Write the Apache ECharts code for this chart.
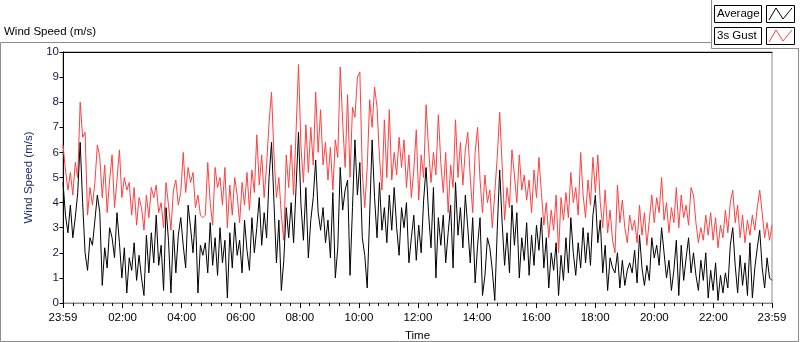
<!DOCTYPE html>
<html>
<head>
<meta charset="utf-8">
<script src="https://cdn.jsdelivr.net/npm/echarts@6/dist/echarts.min.js"></script>
<style>
  html, body { margin: 0; padding: 0; background: #fff; }
  #main { width: 800px; height: 342px; }
</style>
</head>
<body>
<div id="main"></div>
<script>
// wind speed, one reading roughly every 5 minutes from 23:59 to 23:59
var gust = [
  6.3,5.3,4.5,5.2,4.3,5.6,5.0,8.0,6.6,6.8,3.5,4.6,3.9,4.8,6.3,5.8,4.2,5.5,3.6,4.9,5.9,3.8,4.9,6.1,4.2,5.0,4.5,4.8,3.5,4.6,
  3.1,4.2,3.8,2.9,4.3,3.4,4.6,4.2,4.7,3.6,4.0,3.0,4.8,3.9,2.9,4.5,4.9,3.9,4.4,6.0,4.4,5.4,4.8,5.2,3.8,4.3,3.5,3.4,
  3.5,5.6,4.0,3.1,5.4,4.6,5.0,3.9,5.4,3.0,4.7,3.5,5.0,4.3,3.2,4.8,3.9,5.2,3.7,5.3,4.4,6.7,4.7,5.9,4.2,5.5,7.2,8.4,5.9,4.2,
  5.0,3.5,2.5,5.9,4.6,6.3,4.3,6.8,9.5,6.2,4.8,7.1,5.2,7.0,5.5,8.4,6.0,7.7,5.5,6.4,4.9,6.2,4.5,6.5,5.8,9.4,7.2,5.4,
  8.3,5.0,7.8,7.4,9.0,9.2,5.2,3.8,5.4,8.1,7.0,8.6,7.8,5.8,4.5,7.3,5.0,7.7,4.9,6.0,5.1,6.6,5.4,6.5,4.6,5.9,4.2,5.3,6.9,4.1,
  5.9,5.0,7.9,6.2,4.8,6.0,5.1,7.5,5.6,4.4,6.0,3.6,5.5,4.6,7.3,5.0,6.4,4.7,6.1,6.8,5.0,3.6,6.0,7.0,4.9,3.6,5.1,4.0,
  4.5,3.0,4.4,5.8,7.6,5.5,3.3,4.6,3.8,6.1,5.1,4.0,5.9,4.5,5.1,4.1,4.9,3.6,5.3,4.2,5.8,4.4,3.1,4.0,2.6,3.7,2.9,4.3,2.0,4.2,
  3.3,4.4,3.4,5.2,4.0,4.6,3.5,6.0,4.3,3.4,4.9,3.9,5.8,4.4,5.9,4.0,3.0,4.5,2.8,3.7,2.5,2.0,4.7,3.2,4.1,3.0,2.4,3.5,
  2.9,3.3,2.4,3.9,2.7,3.6,2.3,3.3,4.3,3.2,4.2,3.6,5.0,3.3,4.0,2.8,3.8,3.2,4.6,3.0,4.3,3.4,3.9,3.1,4.6,4.3,3.2,2.4,3.0,2.5,
  3.5,2.7,3.6,2.5,3.4,2.2,3.1,2.6,3.7,2.8,4.0,4.5,3.2,3.9,2.6,3.5,2.4,3.3,2.7,3.5,2.9,3.8,4.5,3.6,2.6,3.2,2.5,3.1
];
var average = [
  4.8,3.5,2.8,3.9,2.6,3.4,4.4,6.4,4.0,2.0,1.3,2.6,2.3,3.3,4.3,3.6,0.7,2.2,1.4,3.0,2.6,1.8,3.6,2.4,1.0,2.2,0.4,1.8,1.3,2.4,
  0.9,1.9,1.0,0.3,2.7,1.2,2.8,1.6,3.5,1.5,2.3,0.5,3.8,2.5,0.4,2.9,1.2,2.7,3.4,2.3,1.4,3.9,3.0,2.0,3.5,0.4,2.3,1.9,
  2.4,1.2,3.2,1.5,2.6,1.1,3.0,1.6,2.5,0.2,2.8,1.4,3.2,1.9,2.5,1.2,3.3,2.1,1.3,3.4,2.0,3.0,4.2,2.3,3.6,2.6,5.0,6.4,4.0,1.6,
  3.3,0.5,1.7,3.8,2.6,4.0,2.4,4.6,6.8,3.9,2.5,4.6,1.8,3.3,4.2,5.7,3.6,2.9,3.8,2.4,3.3,1.8,4.4,1.0,2.2,5.4,3.7,4.5,
  4.9,1.1,3.8,6.5,4.3,5.6,2.6,1.9,0.6,3.5,6.5,4.2,2.6,4.8,2.9,3.8,2.4,4.3,2.9,4.6,3.0,1.9,3.8,3.0,4.0,1.6,2.6,3.5,1.7,3.1,
  2.0,4.1,5.4,3.6,2.2,4.6,1.0,3.4,2.3,3.5,1.6,2.8,3.9,1.4,4.8,2.7,3.8,2.2,4.3,3.0,1.6,3.4,0.8,2.3,3.4,0.3,1.1,2.6,
  2.2,1.3,0.1,2.9,5.3,3.2,1.5,2.8,1.2,3.9,2.3,3.6,1.0,2.6,1.7,3.2,1.1,2.7,1.5,3.1,2.1,3.4,1.4,2.6,0.6,2.0,1.3,2.4,0.3,1.9,
  0.9,2.6,1.2,3.4,2.0,1.1,2.4,1.4,3.0,1.6,2.8,1.5,3.5,4.3,2.4,3.3,1.2,2.3,0.5,1.8,1.4,1.2,2.0,0.6,1.7,0.7,1.3,1.6,
  1.2,2.1,0.8,2.7,1.4,0.7,1.5,0.9,2.6,1.8,2.3,1.5,3.0,2.0,1.0,1.7,0.5,1.3,2.5,0.3,2.3,0.9,1.8,2.6,1.2,2.0,1.1,0.5,1.7,0.9,
  2.0,0.2,1.3,0.5,1.6,0.1,1.1,0.4,1.2,0.6,2.3,3.0,1.5,0.4,1.9,0.7,1.6,0.3,2.4,0.2,1.4,2.2,2.9,1.4,0.6,1.8,1.0,0.9
];
// minutes after midnight; the record runs from 23:59 the day before to 23:59
var startMin = -1;
var endMin = 1439;
var labelTimes = [-1, 120, 240, 360, 480, 600, 720, 840, 960, 1080, 1200, 1320, 1439];
var minorTimes = [];
for (var m = 20; m < 1439; m += 20) minorTimes.push(m);

var step = (endMin - startMin) / (gust.length - 1);
function pairs(arr) {
  return arr.map(function (v, i) { return [startMin + i * step, v]; });
}
function hhmm(v) {
  var t = ((Math.round(v) % 1440) + 1440) % 1440;
  var h = Math.floor(t / 60), mm = t % 60;
  return (h < 10 ? '0' : '') + h + ':' + (mm < 10 ? '0' : '') + mm;
}

var font = 'Liberation Sans';
var fs = 11.5;
var myChart = echarts.init(document.getElementById('main'));

var option = {
  animation: false,
  backgroundColor: '#fff',
  textStyle: { fontFamily: font },
  grid: {
    left: 63, right: 28, top: 52, bottom: 39, outerBoundsMode: 'none', containLabel: false,
    show: true, borderColor: '#8c8c8c', borderWidth: 1
  },
  xAxis: [
    {
      type: 'value', min: startMin, max: endMin, position: 'bottom',
      axisLine: { show: true, lineStyle: { color: '#8c8c8c' } },
      axisTick: { show: true, customValues: labelTimes, length: 5, lineStyle: { color: '#000' } },
      axisLabel: { customValues: labelTimes, formatter: hhmm, color: '#000', fontSize: fs, fontFamily: font, margin: 9 },
      splitLine: { show: false },
      name: 'Time', nameLocation: 'middle', nameGap: 27,
      nameTextStyle: { color: '#000', fontSize: fs, fontFamily: font }
    },
    {
      type: 'value', min: startMin, max: endMin, position: 'bottom',
      axisLine: { show: false },
      axisTick: { show: true, customValues: minorTimes, length: 3, lineStyle: { color: '#000' } },
      axisLabel: { show: false },
      splitLine: { show: false }
    },
    {
      type: 'value', min: startMin, max: endMin, position: 'top',
      axisLine: { show: true, lineStyle: { color: '#000' } },
      axisTick: { show: false }, axisLabel: { show: false }, splitLine: { show: false }
    }
  ],
  yAxis: {
    type: 'value', min: 0, max: 10, interval: 1,
    axisLine: { show: true, lineStyle: { color: '#000' } },
    axisTick: { show: true, length: 4, lineStyle: { color: '#000' } },
    axisLabel: { color: '#1a1a40', fontSize: fs, fontFamily: font, margin: 4 },
    splitLine: { show: false },
    name: 'Wind Speed (m/s)', nameLocation: 'middle', nameGap: 24,
    nameTextStyle: { color: '#1c2f6b', fontSize: fs, fontFamily: font }
  },
  graphic: [
    { type: 'text', left: 4, top: 26, style: { text: 'Wind Speed (m/s)', fill: '#000', font: fs + 'px "Liberation Sans"' } },
    // widget frame
    { type: 'polyline', silent: true, shape: { points: [[711, 42.5], [0.5, 42.5], [0.5, 341.5], [798.5, 341.5], [798.5, 48]] },
      style: { stroke: '#8c8c8c', lineWidth: 1, fill: null } },
    { type: 'polyline', silent: true, shape: { points: [[711.5, 0], [711.5, 48.5], [799, 48.5]] },
      style: { stroke: '#8c8c8c', lineWidth: 1, fill: null } },
    // legend
    { type: 'rect', shape: { x: 714.5, y: 5.5, width: 47, height: 17 }, style: { stroke: '#000', fill: '#fff', lineWidth: 1 } },
    { type: 'text', left: 717, top: 8, style: { text: 'Average', fill: '#000', font: fs + 'px "Liberation Sans"' } },
    { type: 'rect', shape: { x: 766.5, y: 5.5, width: 28, height: 17 }, style: { stroke: '#000', fill: '#fff', lineWidth: 1 } },
    { type: 'polyline', shape: { points: [[769, 20], [776, 8], [783, 19], [792, 8]] }, style: { stroke: '#000', lineWidth: 1, fill: null } },
    { type: 'rect', shape: { x: 714.5, y: 27.5, width: 47, height: 17 }, style: { stroke: '#000', fill: '#fff', lineWidth: 1 } },
    { type: 'text', left: 717, top: 30, style: { text: '3s Gust', fill: '#000', font: fs + 'px "Liberation Sans"' } },
    { type: 'rect', shape: { x: 766.5, y: 27.5, width: 28, height: 17 }, style: { stroke: '#000', fill: '#fff', lineWidth: 1 } },
    { type: 'polyline', shape: { points: [[769, 42], [776, 30], [783, 41], [792, 30]] }, style: { stroke: '#ff4040', lineWidth: 1, fill: null } }
  ],
  series: [
    {
      name: '3s Gust', type: 'line', xAxisIndex: 0, data: pairs(gust),
      showSymbol: false, symbol: 'none', lineStyle: { color: '#ff4040', width: 1 }
    },
    {
      name: 'Average', type: 'line', xAxisIndex: 0, data: pairs(average),
      showSymbol: false, symbol: 'none', lineStyle: { color: '#000', width: 1 }
    }
  ]
};
myChart.setOption(option);
</script>
</body>
</html>
